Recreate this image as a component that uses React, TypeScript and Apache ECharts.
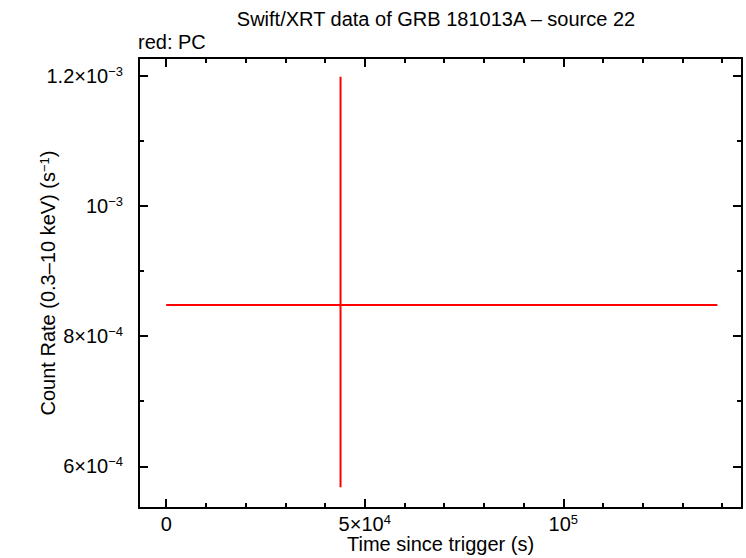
import React, { useEffect, useRef } from "react";
import * as echarts from "echarts";

// one PC bin: time centre with its start/stop, rate with its 1-sigma range
const timeMid = [43900];
const timeLo = [0];
const timeHi = [138800];
const rate = [8.48e-4];
const rateLo = [5.68e-4];
const rateHi = [1.1985e-3];

const X_MIN = -6850;
const X_MAX = 145000;
const Y_MIN = 5.36e-4;
const Y_MAX = 1.2272e-3;

const xMajorTicks = [0, 50000, 100000];
const xMinorTicks = [10000, 20000, 30000, 40000, 60000, 70000, 80000, 90000, 110000, 120000, 130000, 140000];
const xTickLabels = ["{n|0}", "{n|5×10}{s|4}", "{n|10}{s|5}"];

const yMajorTicks = [6e-4, 8e-4, 1e-3, 1.2e-3];
const yMinorTicks = [7e-4, 9e-4, 1.1e-3];
const yTickLabels = ["{n|6×10}{s|−4}", "{n|8×10}{s|−4}", "{n|10}{s|−3}", "{n|1.2×10}{s|−3}"];

const FONT = "'Liberation Sans', Arial, Helvetica, sans-serif";

const rich = {
  n: { fontSize: 20, fontFamily: FONT, color: "#000", lineHeight: 22 },
  s: { fontSize: 13, fontFamily: FONT, color: "#000", lineHeight: 13, verticalAlign: "top" as const },
};

const tickLabel = (ticks: number[], labels: string[]) => (v: number) => {
  const i = ticks.findIndex((t) => Math.abs(t - v) < Math.abs(t) * 1e-6 + 1e-12);
  return i >= 0 ? labels[i] : "";
};

const axisLine = { show: true, onZero: false, lineStyle: { color: "#000", width: 2 } };
const tickStyle = { color: "#000", width: 2 };

const App: React.FC = () => {
  const chartRef = useRef<HTMLDivElement>(null);

  useEffect(() => {
    if (!chartRef.current) return;
    const chart = echarts.init(chartRef.current, undefined, { renderer: "svg" });

    const xBase = { type: "value" as const, min: X_MIN, max: X_MAX, splitLine: { show: false } };
    const yBase = { type: "value" as const, min: Y_MIN, max: Y_MAX, splitLine: { show: false } };

    const option: any = {
      animation: false,
      backgroundColor: "#fff",
      grid: { left: 139, right: 4, top: 58, bottom: 50, outerBoundsMode: "none" },
      graphic: [
        {
          type: "text",
          x: 436,
          y: 19,
          style: {
            text: "Swift/XRT data of GRB 181013A – source 22",
            font: `20px ${FONT}`,
            fill: "#000",
            align: "center",
            verticalAlign: "middle",
          },
        },
        {
          type: "text",
          x: 138,
          y: 42,
          style: { text: "red: PC", font: `20px ${FONT}`, fill: "#000", align: "left", verticalAlign: "middle" },
        },
      ],
      xAxis: [
        {
          ...xBase,
          position: "bottom",
          axisLine,
          axisTick: { show: true, inside: true, length: 9, customValues: xMajorTicks, lineStyle: tickStyle },
          axisLabel: {
            show: true,
            customValues: xMajorTicks,
            margin: 5,
            formatter: tickLabel(xMajorTicks, xTickLabels),
            rich,
          },
          name: "Time since trigger (s)",
          nameLocation: "middle",
          nameGap: 26,
          nameMoveOverlap: false,
          nameTextStyle: { fontSize: 20, fontFamily: FONT, color: "#000" },
        },
        {
          ...xBase,
          position: "bottom",
          axisLine: { show: false, onZero: false },
          axisTick: { show: true, inside: true, length: 5, customValues: xMinorTicks, lineStyle: tickStyle },
          axisLabel: { show: false },
        },
        {
          ...xBase,
          position: "top",
          axisLine,
          axisTick: { show: true, inside: true, length: 9, customValues: xMajorTicks, lineStyle: tickStyle },
          axisLabel: { show: false },
        },
        {
          ...xBase,
          position: "top",
          axisLine: { show: false, onZero: false },
          axisTick: { show: true, inside: true, length: 5, customValues: xMinorTicks, lineStyle: tickStyle },
          axisLabel: { show: false },
        },
      ],
      yAxis: [
        {
          ...yBase,
          position: "left",
          axisLine,
          axisTick: { show: true, inside: true, length: 9, customValues: yMajorTicks, lineStyle: tickStyle },
          axisLabel: {
            show: true,
            customValues: yMajorTicks,
            margin: 16,
            formatter: tickLabel(yMajorTicks, yTickLabels),
            rich,
          },
          name: "Count Rate (0.3–10 keV) (s{s|−1})",
          nameLocation: "middle",
          nameGap: 81,
          nameRotate: 90,
          nameMoveOverlap: false,
          nameTextStyle: {
            fontSize: 20,
            fontFamily: FONT,
            color: "#000",
            rich: {
              s: { fontSize: 13, fontFamily: FONT, color: "#000", lineHeight: 14, verticalAlign: "top" },
            },
          },
        },
        {
          ...yBase,
          position: "left",
          axisLine: { show: false, onZero: false },
          axisTick: { show: true, inside: true, length: 5, customValues: yMinorTicks, lineStyle: tickStyle },
          axisLabel: { show: false },
        },
        {
          ...yBase,
          position: "right",
          axisLine,
          axisTick: { show: true, inside: true, length: 9, customValues: yMajorTicks, lineStyle: tickStyle },
          axisLabel: { show: false },
        },
        {
          ...yBase,
          position: "right",
          axisLine: { show: false, onZero: false },
          axisTick: { show: true, inside: true, length: 5, customValues: yMinorTicks, lineStyle: tickStyle },
          axisLabel: { show: false },
        },
      ],
      series: [
        {
          type: "custom",
          xAxisIndex: 0,
          yAxisIndex: 0,
          encode: { x: [0, 2, 3], y: [1, 4, 5] },
          data: timeMid.map((t, i) => [t, rate[i], timeLo[i], timeHi[i], rateLo[i], rateHi[i]]),
          renderItem: (_params: any, api: any) => {
            const l = api.coord([api.value(2), api.value(1)]);
            const r = api.coord([api.value(3), api.value(1)]);
            const b = api.coord([api.value(0), api.value(4)]);
            const t = api.coord([api.value(0), api.value(5)]);
            const style = { stroke: "#ff0000", lineWidth: 2 };
            return {
              type: "group",
              children: [
                { type: "line", shape: { x1: l[0], y1: l[1], x2: r[0], y2: r[1] }, style },
                { type: "line", shape: { x1: b[0], y1: b[1], x2: t[0], y2: t[1] }, style },
              ],
            };
          },
        },
      ],
    };

    chart.setOption(option);
    return () => {
      chart.dispose();
    };
  }, []);

  return (
    <div
      ref={chartRef}
      style={{ position: "fixed", left: 0, top: 0, width: "746px", height: "558px" }}
    />
  );
};

export default App;
